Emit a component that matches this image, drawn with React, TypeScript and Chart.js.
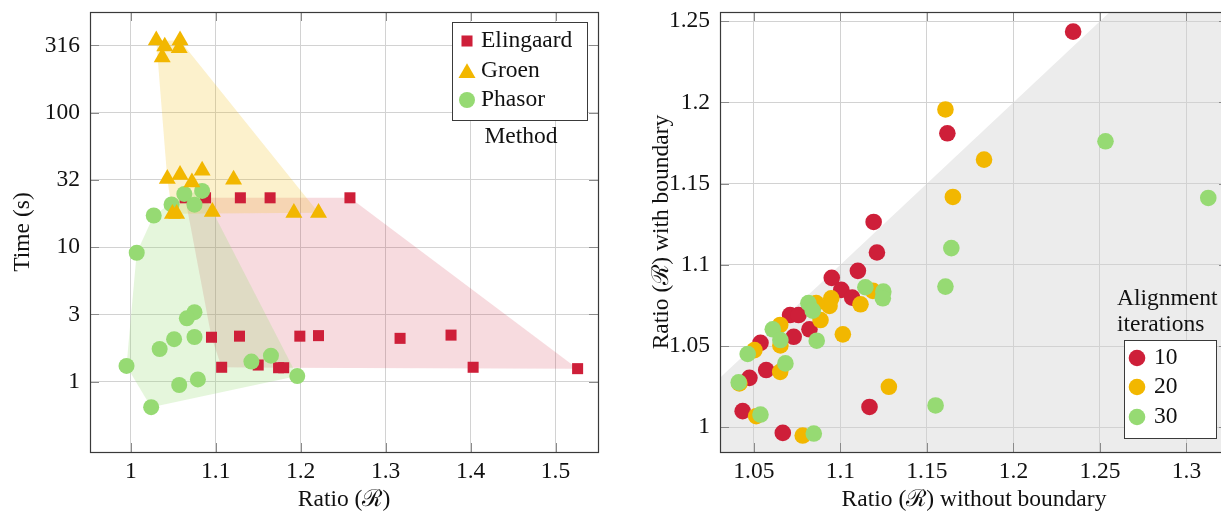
import React, { useEffect, useRef } from "react";
import { Chart, registerables } from "chart.js";

Chart.register(...registerables);

// ---------------- Left chart data: Time vs Ratio per method ----------------
const methodNames = ["Elingaard", "Groen", "Phasor"];

const elingaardRatio = [1.064, 1.088, 1.129, 1.164, 1.258, 1.095, 1.128, 1.199, 1.221, 1.107, 1.150, 1.174, 1.180, 1.317, 1.377, 1.403, 1.526];
const elingaardTime = [23.3, 23.3, 23.3, 23.3, 23.3, 2.14, 2.18, 2.18, 2.2, 1.28, 1.33, 1.27, 1.27, 2.1, 2.22, 1.28, 1.25];

const groenRatio = [1.030, 1.040, 1.058, 1.037, 1.057, 1.043, 1.058, 1.084, 1.121, 1.072, 1.049, 1.054, 1.096, 1.192, 1.221];
const groenTime = [345, 311, 345, 258, 303, 32.2, 34.5, 37.1, 31.8, 30.4, 17.7, 17.7, 18.3, 18.0, 18.0];

const phasorRatio = [1.027, 1.048, 1.063, 1.075, 1.084, 1.007, 1.075, 1.066, 1.051, 1.075, 1.034, 0.995, 1.057, 1.079, 1.024, 1.142, 1.165, 1.196];
const phasorTime = [17.2, 20.8, 24.9, 20.7, 26.2, 9.09, 3.29, 2.96, 2.07, 2.15, 1.75, 1.31, 0.945, 1.04, 0.646, 1.41, 1.56, 1.10];

const timeTickValues = [1, 3.1623, 10, 31.623, 100, 316.23];
const timeTickLabels = ["1", "3", "10", "32", "100", "316"];
const ratioTickValues = [1, 1.1, 1.2, 1.3, 1.4, 1.5];
const ratioTickLabels = ["1", "1.1", "1.2", "1.3", "1.4", "1.5"];

// ---------------- Right chart data: ratio with vs without boundary ----------------
const iterationLabels = ["10", "20", "30"];

const iter10Without = [1.1211, 1.1101, 1.0950, 1.1005, 1.1068, 1.0709, 1.0758, 1.0821, 1.0730, 1.0538, 1.0571, 1.0474, 1.0435, 1.1168, 1.0667, 1.1618, 1.1192, 1.2345];
const iter10With = [1.1076, 1.0963, 1.0920, 1.0846, 1.0798, 1.0691, 1.0691, 1.0603, 1.0557, 1.0520, 1.0352, 1.0304, 1.0099, 1.0125, 0.9965, 1.1810, 1.1264, 1.2436];

const iter20Without = [1.1188, 1.0947, 1.0937, 1.0860, 1.1116, 1.0885, 1.0652, 1.0653, 1.0503, 1.0652, 1.0416, 1.1014, 1.1280, 1.0513, 1.0782, 1.1607, 1.1830, 1.1650];
const iter20With = [1.0840, 1.0794, 1.0747, 1.0764, 1.0757, 1.0660, 1.0630, 1.0504, 1.0475, 1.0341, 1.0270, 1.0572, 1.0249, 1.0068, 0.9949, 1.1957, 1.1648, 1.1418];

const iter30Without = [1.1641, 1.1607, 1.1144, 1.1248, 1.1245, 1.0815, 1.0840, 1.0609, 1.0653, 1.0863, 1.0464, 1.0682, 1.0412, 1.0538, 1.1550, 1.0846, 1.2532, 1.3126];
const iter30With = [1.1103, 1.0866, 1.0862, 1.0835, 1.0794, 1.0764, 1.0718, 1.0603, 1.0537, 1.0533, 1.0451, 1.0393, 1.0276, 1.0078, 1.0134, 0.9961, 1.1761, 1.1412];

const rightXTickValues = [1.05, 1.1, 1.15, 1.2, 1.25, 1.3];
const rightXTickLabels = ["1.05", "1.1", "1.15", "1.2", "1.25", "1.3"];
const rightYTickValues = [1, 1.05, 1.1, 1.15, 1.2, 1.25];
const rightYTickLabels = ["1", "1.05", "1.1", "1.15", "1.2", "1.25"];

// ---------------- Styles ----------------
const FONT = "'Liberation Serif', 'Times New Roman', 'DejaVu Serif', serif";
const FS = 23.5;
const RED = "rgb(206,31,57)";
const YELLOW = "rgb(242,183,0)";
const GREEN = "rgb(150,218,115)";
const RED_FILL = "rgba(206,31,57,0.16)";
const YELLOW_FILL = "rgba(242,183,0,0.2)";
const GREEN_FILL = "rgba(150,218,115,0.25)";
const GRID = "#d2d2d2";
const TICKMARK = "#8a8a8a";
const FRAME = "#3a3a3a";

function zip(xs: number[], ys: number[]) {
  return xs.map((x, i) => ({ x, y: ys[i] }));
}

type P = { x: number; y: number };
function convexHull(pts: P[]): P[] {
  const p = pts.slice().sort((a, b) => a.x - b.x || a.y - b.y);
  if (p.length < 3) return p;
  const cross = (o: P, a: P, b: P) => (a.x - o.x) * (b.y - o.y) - (a.y - o.y) * (b.x - o.x);
  const lower: P[] = [];
  for (const q of p) {
    while (lower.length >= 2 && cross(lower[lower.length - 2], lower[lower.length - 1], q) <= 0) lower.pop();
    lower.push(q);
  }
  const upper: P[] = [];
  for (let i = p.length - 1; i >= 0; i--) {
    const q = p[i];
    while (upper.length >= 2 && cross(upper[upper.length - 2], upper[upper.length - 1], q) <= 0) upper.pop();
    upper.push(q);
  }
  upper.pop();
  lower.pop();
  return lower.concat(upper);
}

function drawMarker(ctx: CanvasRenderingContext2D, style: string, x: number, y: number, r: number, color: string) {
  ctx.save();
  ctx.fillStyle = color;
  ctx.beginPath();
  if (style === "rect") {
    const s = Math.SQRT1_2 * r;
    ctx.rect(x - s, y - s, 2 * s, 2 * s);
  } else if (style === "triangle") {
    ctx.moveTo(x, y - r);
    ctx.lineTo(x + Math.sin(Math.PI * 2 / 3) * r, y + 0.5 * r);
    ctx.lineTo(x - Math.sin(Math.PI * 2 / 3) * r, y + 0.5 * r);
    ctx.closePath();
  } else {
    ctx.arc(x, y, r, 0, Math.PI * 2);
  }
  ctx.fill();
  ctx.restore();
}

function fixedTicks(values: number[]) {
  return (scale: any) => {
    scale.ticks = values.map((v) => ({ value: v }));
  };
}

function frameAndTicksPlugin(id: string) {
  return {
    id,
    afterDraw(chart: any) {
      const { ctx, chartArea: a, scales } = chart;
      ctx.save();
      ctx.strokeStyle = TICKMARK;
      ctx.lineWidth = 1;
      const L = 9;
      for (const t of scales.x.ticks) {
        const px = Math.round(scales.x.getPixelForValue(t.value)) + 0.5;
        ctx.beginPath();
        ctx.moveTo(px, a.bottom);
        ctx.lineTo(px, a.bottom - L);
        ctx.moveTo(px, a.top);
        ctx.lineTo(px, a.top + L);
        ctx.stroke();
      }
      for (const t of scales.y.ticks) {
        const py = Math.round(scales.y.getPixelForValue(t.value)) + 0.5;
        ctx.beginPath();
        ctx.moveTo(a.left, py);
        ctx.lineTo(a.left + L, py);
        ctx.moveTo(a.right, py);
        ctx.lineTo(a.right - L, py);
        ctx.stroke();
      }
      ctx.strokeStyle = FRAME;
      ctx.lineWidth = 1.2;
      ctx.strokeRect(Math.round(a.left) + 0.5, Math.round(a.top) + 0.5, Math.round(a.width), Math.round(a.height));
      ctx.restore();
    },
  };
}

function titlesPlugin(id: string, xTitle: string, yTitle: string, yTitleX: number, xTitleY: number) {
  return {
    id,
    afterDraw(chart: any) {
      const { ctx, chartArea: a } = chart;
      ctx.save();
      ctx.fillStyle = "#111";
      ctx.font = `${FS}px ${FONT}`;
      ctx.textAlign = "center";
      ctx.textBaseline = "middle";
      ctx.fillText(xTitle, (a.left + a.right) / 2, xTitleY);
      ctx.translate(yTitleX, (a.top + a.bottom) / 2);
      ctx.rotate(-Math.PI / 2);
      ctx.fillText(yTitle, 0, 0);
      ctx.restore();
    },
  };
}

const hullPlugin = {
  id: "hulls",
  beforeDatasetsDraw(chart: any) {
    const { ctx, chartArea: a } = chart;
    const fills = [RED_FILL, YELLOW_FILL, GREEN_FILL];
    ctx.save();
    ctx.beginPath();
    ctx.rect(a.left, a.top, a.width, a.height);
    ctx.clip();
    chart.data.datasets.forEach((ds: any, i: number) => {
      const meta = chart.getDatasetMeta(i);
      const pts = meta.data.map((el: any) => ({ x: el.x, y: el.y }));
      const h = convexHull(pts);
      if (h.length < 3) return;
      ctx.beginPath();
      ctx.moveTo(h[0].x, h[0].y);
      for (let k = 1; k < h.length; k++) ctx.lineTo(h[k].x, h[k].y);
      ctx.closePath();
      ctx.fillStyle = fills[i];
      ctx.fill();
    });
    ctx.restore();
  },
};

const leftLegendPlugin = {
  id: "leftLegend",
  afterDraw(chart: any) {
    const { ctx } = chart;
    ctx.save();
    const bx = 452, by = 22, bw = 135, bh = 98;
    ctx.fillStyle = "#fff";
    ctx.fillRect(bx, by, bw, bh);
    ctx.strokeStyle = FRAME;
    ctx.lineWidth = 1;
    ctx.strokeRect(bx + 0.5, by + 0.5, bw, bh);
    const rows = [41, 71, 100];
    const styles = ["rect", "triangle", "circle"];
    const radii = [7.8, 9.8, 8];
    const colors = [RED, YELLOW, GREEN];
    const rowOffsets = [0, 2, 0];
    ctx.font = `${FS}px ${FONT}`;
    ctx.textAlign = "left";
    ctx.textBaseline = "middle";
    methodNames.forEach((name, i) => {
      drawMarker(ctx, styles[i], 467, rows[i] + rowOffsets[i], radii[i], colors[i]);
      ctx.fillStyle = "#111";
      ctx.fillText(name, 481, rows[i]);
    });
    ctx.textAlign = "center";
    ctx.fillText("Method", 521, 137);
    ctx.restore();
  },
};

const rightLegendPlugin = {
  id: "rightLegend",
  afterDraw(chart: any) {
    const { ctx } = chart;
    ctx.save();
    const bx = 504, by = 340, bw = 92, bh = 98;
    ctx.fillStyle = "#fff";
    ctx.fillRect(bx, by, bw, bh);
    ctx.strokeStyle = FRAME;
    ctx.lineWidth = 1;
    ctx.strokeRect(bx + 0.5, by + 0.5, bw, bh);
    const rows = [358, 387, 417];
    const colors = [RED, YELLOW, GREEN];
    ctx.font = `${FS}px ${FONT}`;
    ctx.textAlign = "left";
    ctx.textBaseline = "middle";
    iterationLabels.forEach((lab, i) => {
      drawMarker(ctx, "circle", 517, rows[i], 8.3, colors[i]);
      ctx.fillStyle = "#111";
      ctx.fillText(lab, 534, rows[i]);
    });
    ctx.fillText("Alignment", 497, 299);
    ctx.fillText("iterations", 497, 325);
    ctx.restore();
  },
};

const diagonalPlugin = {
  id: "diagonal",
  beforeDraw(chart: any) {
    const { ctx, chartArea: a, scales } = chart;
    const x = scales.x, y = scales.y;
    const lo = Math.min(x.min, y.min) - 1;
    const hi = Math.max(x.max, y.max) + 1;
    ctx.save();
    ctx.beginPath();
    ctx.rect(a.left, a.top, a.width, a.height);
    ctx.clip();
    ctx.beginPath();
    ctx.moveTo(x.getPixelForValue(lo), y.getPixelForValue(lo));
    ctx.lineTo(x.getPixelForValue(hi), y.getPixelForValue(hi));
    ctx.lineTo(x.getPixelForValue(hi), y.getPixelForValue(lo));
    ctx.closePath();
    ctx.fillStyle = "#ececec";
    ctx.fill();
    ctx.restore();
  },
};

function axisCommon(values: number[], labels: string[], padding: number) {
  return {
    afterBuildTicks: fixedTicks(values),
    ticks: {
      autoSkip: false,
      maxRotation: 0,
      minRotation: 0,
      padding,
      color: "#111",
      font: { family: FONT, size: FS },
      callback: (_v: any, i: number) => labels[i],
    },
    grid: { color: GRID, lineWidth: 1, drawTicks: false },
    border: { display: false },
    title: { display: false },
  };
}

function fitX(s: any) {
  s.height = 62;
  s.paddingLeft = 0;
  s.paddingRight = 0;
}
function fitY(width: number) {
  return (s: any) => {
    s.width = width;
    s.paddingTop = 0;
    s.paddingBottom = 0;
  };
}

function leftConfig(): any {
  return {
    type: "scatter",
    data: {
      datasets: [
        { label: methodNames[0], data: zip(elingaardRatio, elingaardTime), pointStyle: "rect", pointRadius: 7.8, backgroundColor: RED, borderWidth: 0, order: 2 },
        { label: methodNames[1], data: zip(groenRatio, groenTime), pointStyle: "triangle", pointRadius: 9.8, backgroundColor: YELLOW, borderWidth: 0, order: 0 },
        { label: methodNames[2], data: zip(phasorRatio, phasorTime), pointStyle: "circle", pointRadius: 8, backgroundColor: GREEN, borderWidth: 0, order: 1 },
      ],
    },
    options: {
      responsive: false,
      animation: false,
      events: [],
      layout: { padding: { left: 0, top: 12, right: 12, bottom: 0 } },
      plugins: { legend: { display: false }, tooltip: { enabled: false } },
      scales: {
        x: {
          type: "linear",
          min: 0.952,
          max: 1.55,
          ...axisCommon(ratioTickValues, ratioTickLabels, 6),
          afterFit: fitX,
        },
        y: {
          type: "logarithmic",
          min: 0.314,
          max: 561,
          ...axisCommon(timeTickValues, timeTickLabels, 10),
          afterFit: fitY(90),
        },
      },
    },
    plugins: [hullPlugin, frameAndTicksPlugin("frameL"), leftLegendPlugin, titlesPlugin("titlesL", "Ratio (\u211B)", "Time (s)", 23, 500)],
  };
}

function rightConfig(): any {
  return {
    type: "scatter",
    data: {
      datasets: [
        { label: iterationLabels[0], data: zip(iter10Without, iter10With), pointStyle: "circle", pointRadius: 8.3, backgroundColor: RED, borderWidth: 0, order: 2 },
        { label: iterationLabels[1], data: zip(iter20Without, iter20With), pointStyle: "circle", pointRadius: 8.3, backgroundColor: YELLOW, borderWidth: 0, order: 1 },
        { label: iterationLabels[2], data: zip(iter30Without, iter30With), pointStyle: "circle", pointRadius: 8.3, backgroundColor: GREEN, borderWidth: 0, order: 0 },
      ],
    },
    options: {
      responsive: false,
      animation: false,
      events: [],
      layout: { padding: { left: 0, top: 12, right: 12, bottom: 0 } },
      plugins: { legend: { display: false }, tooltip: { enabled: false } },
      scales: {
        x: {
          type: "linear",
          min: 1.0304,
          max: 1.324,
          ...axisCommon(rightXTickValues, rightXTickLabels, 6),
          afterFit: fitX,
        },
        y: {
          type: "linear",
          min: 0.98475,
          max: 1.2557,
          ...axisCommon(rightYTickValues, rightYTickLabels, 10),
          afterFit: fitY(100),
        },
      },
    },
    plugins: [diagonalPlugin, frameAndTicksPlugin("frameR"), rightLegendPlugin, titlesPlugin("titlesR", "Ratio (\u211B) without boundary", "Ratio (\u211B) with boundary", 42, 500)],
  };
}

export default function App() {
  const leftRef = useRef<HTMLCanvasElement>(null);
  const rightRef = useRef<HTMLCanvasElement>(null);
  useEffect(() => {
    const c1 = new Chart(leftRef.current as HTMLCanvasElement, leftConfig());
    const c2 = new Chart(rightRef.current as HTMLCanvasElement, rightConfig());
    return () => {
      c1.destroy();
      c2.destroy();
    };
  }, []);
  return (
    <div style={{ position: "fixed", left: 0, top: 0, width: 1221, height: 514, overflow: "hidden", background: "#fff" }}>
      <div style={{ position: "absolute", left: 0, top: 0, width: 610, height: 514 }}>
        <canvas ref={leftRef} width={610} height={514} style={{ display: "block", width: 610, height: 514 }} />
      </div>
      <div style={{ position: "absolute", left: 620, top: 0, width: 620, height: 514 }}>
        <canvas ref={rightRef} width={620} height={514} style={{ display: "block", width: 620, height: 514 }} />
      </div>
    </div>
  );
}
